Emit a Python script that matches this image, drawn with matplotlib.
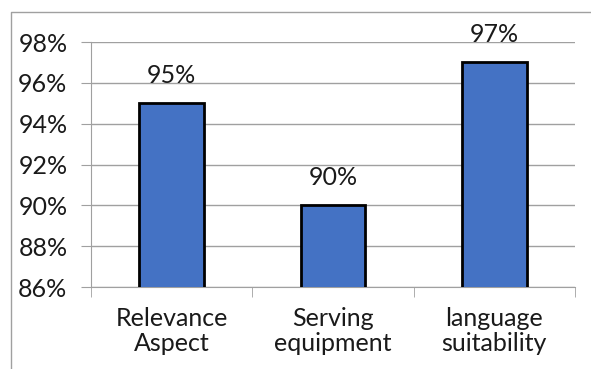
import matplotlib
matplotlib.use('Agg')
import matplotlib.pyplot as plt
from matplotlib.lines import Line2D
from matplotlib.ticker import FuncFormatter

categories = ['Relevance\nAspect', 'Serving\nequipment', 'language\nsuitability']
values = [95, 90, 97]
y_ticks = [86, 88, 90, 92, 94, 96, 98]

plt.rcParams['font.family'] = ['Lato', 'DejaVu Sans']

fig = plt.figure(figsize=(5.91, 3.69), dpi=100)
ax = fig.add_axes([0.154, 0.222, 0.819, 0.664])

x = range(len(categories))
bars = ax.bar(x, values, width=0.4, color='#4472C4', edgecolor='black',
              linewidth=2, zorder=3)
for b, v in zip(bars, values):
    ax.text(b.get_x() + b.get_width() / 2, v + 0.8, f'{v}%',
            ha='center', va='bottom', fontsize=18, color='#1a1a1a')

ax.set_ylim(86, 98)
ax.set_xlim(-0.5, 2.5)
ax.set_yticks(y_ticks)
ax.yaxis.set_major_formatter(FuncFormatter(lambda v, p: f'{v:.0f}%'))
ax.set_xticks(list(x))
ax.set_xticklabels(categories, fontsize=18, linespacing=1.15, color='#1a1a1a')
ax.set_xticks([-0.5, 0.5, 1.5, 2.5], minor=True)
ax.tick_params(axis='x', which='major', length=0, pad=14)
ax.tick_params(axis='x', which='minor', length=7, color='#a0a0a0')
ax.tick_params(axis='y', length=7, color='#a0a0a0', labelsize=18, pad=10,
               labelcolor='#1a1a1a')

ax.grid(axis='y', color='#a0a0a0', linewidth=1, zorder=0)
for s in ['top', 'right']:
    ax.spines[s].set_visible(False)
for s in ['left', 'bottom']:
    ax.spines[s].set_color('#a0a0a0')

# outer chart frame
fx = 11 / 591
fy = 1 - 12 / 369
fig.add_artist(Line2D([fx, fx, 1], [0, fy, fy], color='#a0a0a0', linewidth=1,
                      transform=fig.transFigure))

fig.savefig('out.png', dpi=100)
